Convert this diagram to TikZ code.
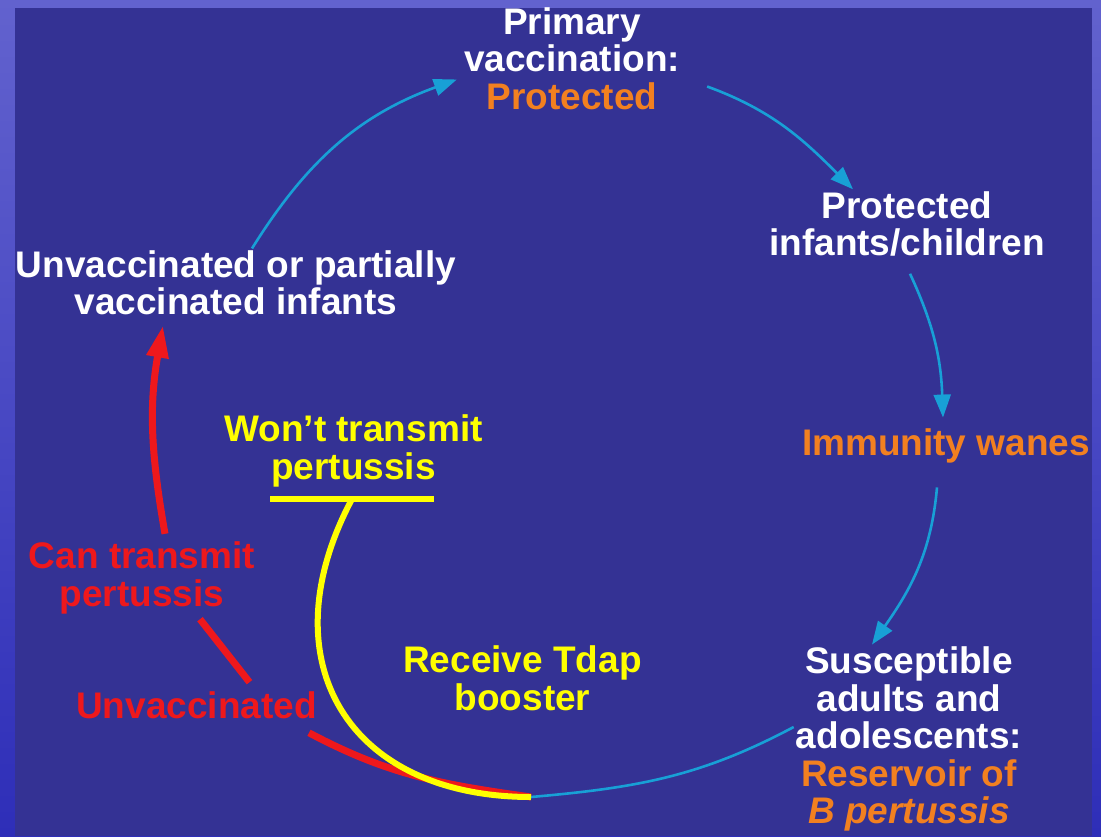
\documentclass[tikz,border=0pt]{standalone}
\usepackage{fontspec}
\setmainfont{Liberation Sans}
\usetikzlibrary{arrows.meta}

\definecolor{slide}{RGB}{52,50,148}
\definecolor{frametop}{RGB}{98,98,206}
\definecolor{framebot}{RGB}{46,46,184}
\definecolor{cyanline}{RGB}{24,160,214}
\definecolor{orangetxt}{RGB}{242,128,32}
\definecolor{redline}{RGB}{238,24,28}
\definecolor{yellowline}{RGB}{255,255,0}

\begin{document}
\begin{tikzpicture}[
x=1pt,y=1pt,
txt/.style={
  font=\fontsize{37}{37.5}\selectfont\bfseries,
  align=center,
  inner sep=2pt
  },
cyc/.style={
  draw=cyanline,
  line width=2.6pt
  },
cycarrow/.style={
  cyc,
  -{Triangle[length=23pt,width=17pt]}
  },
redpath/.style={
  draw=redline,
  line width=7pt
  },
yelpath/.style={
  draw=yellowline,
  line width=6pt
  }
]

% slide background
\shade[top color=frametop,bottom color=framebot] (0,0) rectangle (1101,-836);
\fill[slide] (15,-8) rectangle (1092,-836);
\useasboundingbox (0,0) rectangle (1101,-836);

% stages of the cycle
\node[txt,text=white] (prim) at (572,-58.5) {Primary\\vaccination:\\\textcolor{orangetxt}{Protected}};
\node[txt,text=white] (child) at (907,-224) {Protected\\infants/children};
\node[txt,text=orangetxt] (wane) at (946,-446) {Immunity wanes};
\node[txt,text=white] (adult) at (909,-739) {Susceptible\\adults and\\adolescents:\\\textcolor{orangetxt}{Reservoir of}\\\textcolor{orangetxt}{\itshape B pertussis}};
\node[txt,text=white] (infant) at (236,-283) {Unvaccinated or partially\\vaccinated infants};
\node[txt,text=yellowline] (wont) at (353.5,-451) {Won’t transmit\\pertussis};
\node[txt,text=redline] (can) at (142,-578) {Can transmit\\pertussis};
\node[txt,text=redline] (unvac) at (196.5,-705) {Unvaccinated};
\node[txt,text=yellowline] (tdap) at (522.5,-678.5) {Receive Tdap\\booster};
\coordinate (meet) at (531,-797);
\coordinate (bar) at (352,-499);

% cycle
\draw[cycarrow] ([xshift=16pt]infant.north) to[out=58,in=200] ([xshift=-5pt,yshift=-21pt]prim.west);
\draw[cycarrow] ([xshift=25pt,yshift=-28pt]prim.east) to[out=-20,in=135] ([xshift=-54pt]child.north);
\draw[cycarrow] ([xshift=3pt,yshift=-15pt]child.south) to[out=-65,in=92] ([xshift=-3pt,yshift=9pt]wane.north);
\draw[cycarrow] ([xshift=-9pt,yshift=-22pt]wane.south) to[out=-95,in=55] ([xshift=-37pt]adult.north);
\draw[cyc] ([yshift=12pt]adult.west) to[out=-152,in=5] (meet);

% unvaccinated branch
\draw[redpath,-{Triangle[length=32pt,width=21pt]}] ([xshift=23pt,yshift=6pt]can.north) to[out=100,in=260] ([xshift=-73pt,yshift=-8pt]infant.south);
\draw[redpath] ([xshift=58pt,yshift=-3pt]can.south) -- ([xshift=53pt,yshift=7pt]unvac.north);
\draw[redpath] ([xshift=-10pt,yshift=-12pt]unvac.south east) to[out=-28,in=172] (meet);

% booster branch
\draw[yelpath] ([xshift=-82pt]bar) -- ([xshift=82pt]bar);
\draw[yelpath] (bar) to[out=-118,in=180,looseness=1.35] (meet);

\end{tikzpicture}
\end{document}
